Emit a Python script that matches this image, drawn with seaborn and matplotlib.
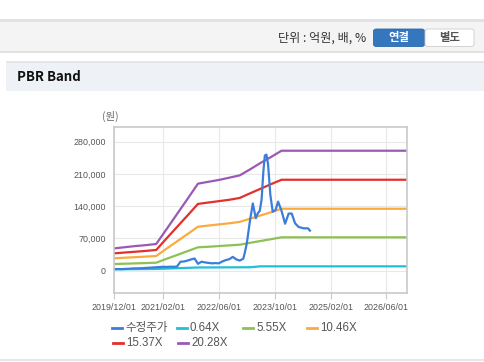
import pandas as pd
import matplotlib.pyplot as plt
import matplotlib.dates as mdates
from matplotlib.patches import Rectangle, FancyBboxPatch
from matplotlib.lines import Line2D
import seaborn as sns

# -------- DATA --------
band_dates = pd.date_range("2019-12-01", "2026-12-01", freq="3MS")

band_064 = [3.0, 3.2, 3.4, 3.6, 3.8, 4.6, 5.4, 6.2, 7.0, 7.1, 7.2, 7.3, 7.4, 7.5,
            9.5, 9.5, 9.5, 9.5, 9.5, 9.5, 9.5, 9.5, 9.5, 9.5, 9.5, 9.5, 9.5, 9.5, 9.5]
band_555 = [14.5, 15.2, 15.9, 16.6, 17.4, 25.8, 34.1, 42.5, 50.8, 52.0, 53.5, 55.0, 56.5,
            60.5, 64.5, 68.5, 72.5, 72.5, 72.5, 72.5, 72.5, 72.5, 72.5, 72.5, 72.5,
            72.5, 72.5, 72.5, 72.5]
band_1046 = [26.9, 28.2, 29.4, 30.6, 31.9, 47.8, 63.7, 79.6, 95.5, 98.0, 100.5, 103.0, 106.0,
             113.0, 120.0, 127.0, 134.5, 134.5, 134.5, 134.5, 134.5, 134.5, 134.5, 134.5,
             134.5, 134.5, 134.5, 134.5, 134.5]
band_1537 = [37.7, 39.5, 41.2, 43.0, 45.0, 70.0, 95.0, 120.0, 145.0, 148.0, 151.0, 154.0, 158.0,
             168.0, 178.0, 188.0, 197.5, 197.5, 197.5, 197.5, 197.5, 197.5, 197.5, 197.5,
             197.5, 197.5, 197.5, 197.5, 197.5]
band_2028 = [48.5, 51.0, 53.5, 55.5, 58.0, 90.0, 123.0, 156.0, 189.0, 193.0, 197.0, 202.0, 207.0,
             220.0, 234.0, 247.0, 260.5, 260.5, 260.5, 260.5, 260.5, 260.5, 260.5, 260.5,
             260.5, 260.5, 260.5, 260.5, 260.5]

price_dates = ["2019-12-01", "2020-01-01", "2020-02-01", "2020-03-01", "2020-04-01", "2020-05-01",
               "2020-06-01", "2020-07-01", "2020-08-01", "2020-09-01", "2020-10-01", "2020-11-01",
               "2020-12-01", "2021-01-01", "2021-02-01", "2021-03-01", "2021-04-01", "2021-05-01",
               "2021-06-01", "2021-07-01", "2021-08-01", "2021-09-01", "2021-10-01", "2021-11-01",
               "2021-12-01", "2022-01-01", "2022-02-01", "2022-03-01", "2022-04-01", "2022-05-01",
               "2022-06-01", "2022-07-01", "2022-08-01", "2022-09-01", "2022-10-01", "2022-11-01",
               "2022-12-01", "2023-01-01", "2023-01-15", "2023-02-01", "2023-03-01", "2023-03-25",
               "2023-04-20", "2023-05-08", "2023-05-25", "2023-06-10", "2023-06-25", "2023-07-08",
               "2023-07-22", "2023-08-05", "2023-08-25", "2023-09-15", "2023-10-10", "2023-11-01",
               "2023-12-01", "2024-01-01", "2024-02-01", "2024-02-28", "2024-03-28", "2024-04-28",
               "2024-06-10", "2024-07-20", "2024-08-05"]
price = [3.5, 3.6, 3.4, 3.8, 4.2, 4.8, 5.0, 5.2, 5.5, 6.0, 6.5, 7.0,
         7.5, 8.0, 8.5, 8.2, 8.7, 8.5, 9.0, 19.5, 20.0, 22.0, 24.5, 26.5,
         15.0, 19.5, 18.0, 17.0, 16.0, 16.5, 16.0, 20.0, 23.0, 25.0, 30.0, 24.5,
         22.0, 26.0, 40.0, 60.0, 110.0, 146.0, 114.0, 125.0, 130.0, 155.0, 215.0, 250.0,
         252.0, 232.0, 165.0, 128.0, 132.0, 150.0, 130.0, 102.0, 124.0, 124.0, 103.0, 95.0,
         92.0, 92.0, 87.0]

band_labels = ["0.64X", "5.55X", "10.46X", "15.37X", "20.28X"]
colors = {"수정주가": "#3b7ddd", "0.64X": "#22c0d6", "5.55X": "#8dc153",
          "10.46X": "#fbaa3f", "15.37X": "#e2302d", "20.28X": "#9b59b6"}

bands = pd.DataFrame({"date": band_dates, "0.64X": band_064, "5.55X": band_555,
                      "10.46X": band_1046, "15.37X": band_1537, "20.28X": band_2028})
bands = bands.melt(id_vars="date", var_name="band", value_name="value")
bands["value"] = bands["value"] * 1000
prices = pd.DataFrame({"date": pd.to_datetime(price_dates), "value": [p * 1000 for p in price]})

# -------- FIGURE --------
plt.rcParams["font.family"] = ["Liberation Sans", "Noto Sans CJK KR", "DejaVu Sans"]
W, H = 484, 362
fig = plt.figure(figsize=(W / 100, H / 100), dpi=100)


def box(x, y, w, h, fc, ec="none", lw=0):
    # pixel coords from the top-left corner
    fig.add_artist(Rectangle((x / W, 1 - (y + h) / H), w / W, h / H, transform=fig.transFigure,
                             facecolor=fc, edgecolor=ec, linewidth=lw))


# top toolbar
box(0, 19, W, 34, "#f4f4f4")
box(0, 19, W, 2.5, "#e2e2e2")
box(0, 50.5, W, 2.5, "#e2e2e2")
fig.text(366 / W, 1 - 38 / H, "단위 : 억원, 배, %", ha="right", va="center", fontsize=8.7,
         color="#333333", family=["Noto Sans CJK KR", "DejaVu Sans"])
fig.add_artist(FancyBboxPatch((373.5 / W, 1 - 46.5 / H), 51 / W, 17.5 / H,
                              boxstyle="round,pad=0,rounding_size=0.006", transform=fig.transFigure,
                              facecolor="#3577bf", edgecolor="#2d68a8", linewidth=0.6))
fig.add_artist(FancyBboxPatch((425 / W, 1 - 46.5 / H), 49 / W, 17.5 / H,
                              boxstyle="round,pad=0,rounding_size=0.006", transform=fig.transFigure,
                              facecolor="white", edgecolor="#cccccc", linewidth=0.6))
fig.text(399 / W, 1 - 37.5 / H, "연결", ha="center", va="center", fontsize=8.2, color="white",
         fontweight="bold", family=["Noto Sans CJK KR", "DejaVu Sans"])
fig.text(449.5 / W, 1 - 37.5 / H, "별도", ha="center", va="center", fontsize=8.2, color="#555555",
         fontweight="bold", family=["Noto Sans CJK KR", "DejaVu Sans"])

# section header
box(6, 62, W - 6, 29, "#eef1f6")
box(6, 61, W - 6, 1.5, "#e3e6eb")
fig.text(17 / W, 1 - 77 / H, "PBR Band", ha="left", va="center", fontsize=9.5, color="#111111",
         fontweight="bold", family=["Noto Sans CJK KR", "DejaVu Sans"])
box(0, 359, W, 1.5, "#e6e6e6")

# chart
ax = fig.add_axes([114.3 / W, 1 - 293 / H, 292.7 / W, 166 / H])
sns.lineplot(data=bands, x="date", y="value", hue="band", hue_order=band_labels,
             palette=colors, linewidth=1.6, legend=False, ax=ax)
sns.lineplot(data=prices, x="date", y="value", color=colors["수정주가"], linewidth=1.6,
             legend=False, ax=ax)

ax.set_xlim(pd.Timestamp("2019-12-01"), pd.Timestamp("2026-12-01"))
ax.set_ylim(-48400, 312000)
ax.set_yticks([0, 70000, 140000, 210000, 280000])
ax.yaxis.set_major_formatter(plt.FuncFormatter(lambda v, p: f"{int(v):,}"))
xticks = pd.to_datetime(["2019-12-01", "2021-02-01", "2022-06-01", "2023-10-01",
                         "2025-02-01", "2026-06-01"])
ax.set_xticks(xticks)
ax.xaxis.set_major_formatter(mdates.DateFormatter("%Y/%m/%d"))
ax.set_xlabel("")
ax.set_ylabel("")
ax.grid(True, color="#e8e8e8", linewidth=0.8)
ax.set_axisbelow(True)
for s in ax.spines.values():
    s.set_color("#c9c9c9")
    s.set_linewidth(1.2)
ax.tick_params(axis="y", length=0, pad=6, labelsize=6.4, labelcolor="#555555")
ax.tick_params(axis="x", length=4, width=0.8, color="#c9c9c9", pad=3, labelsize=6.4,
               labelcolor="#555555")
fig.text(110 / W, 1 - 116.5 / H, "(원)", ha="center", va="center", fontsize=7.5, color="#666666",
         family=["Noto Sans CJK KR", "DejaVu Sans"])

# legend
legend_items = [("수정주가", 112, 328), ("0.64X", 177, 328), ("5.55X", 243, 328),
                ("10.46X", 307, 328), ("15.37X", 113, 343), ("20.28X", 178, 343)]
for name, lx, ly in legend_items:
    fig.add_artist(Line2D([lx / W, (lx + 10) / W], [1 - ly / H, 1 - ly / H],
                          transform=fig.transFigure, color=colors[name], linewidth=2))
    fig.text((lx + 13) / W, 1 - ly / H, name, ha="left", va="center", fontsize=8.3,
             color="#555555", family=["Liberation Sans", "Noto Sans CJK KR"])

plt.savefig("out.png", dpi=100)
